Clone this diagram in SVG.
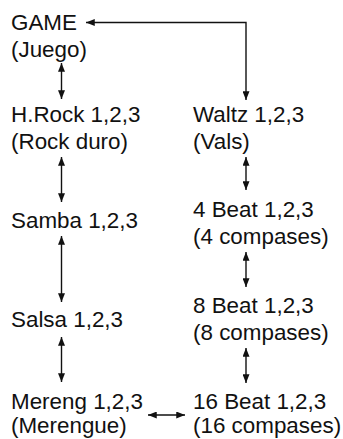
<svg xmlns="http://www.w3.org/2000/svg" width="343" height="439" viewBox="0 0 343 439">
<defs>
<style>
text{font-family:"Liberation Sans",Arial,sans-serif;font-size:22.4px;fill:#111}
.c{fill:none;stroke:#111;stroke-width:1.4}
</style>
<marker id="ah" viewBox="0 0 10 8" refX="10" refY="4" markerWidth="9" markerHeight="7" markerUnits="userSpaceOnUse" orient="auto-start-reverse">
<path d="M0,0 L10,4 L0,8 Z" fill="#111"/>
</marker>
</defs>
<rect width="343" height="439" fill="#fff"/>
<g id="game"><text x="11" y="30">GAME</text><text x="11" y="57">(Juego)</text></g>
<g id="hrock"><text x="11" y="122">H.Rock 1,2,3</text><text x="11" y="149">(Rock duro)</text></g>
<g id="samba"><text x="11" y="228">Samba 1,2,3</text></g>
<g id="salsa"><text x="11" y="327">Salsa 1,2,3</text></g>
<g id="mereng"><text x="11" y="409">Mereng 1,2,3</text><text x="11" y="433">(Merengue)</text></g>
<g id="waltz"><text x="193" y="122">Waltz 1,2,3</text><text x="193" y="149">(Vals)</text></g>
<g id="beat4"><text x="193" y="217">4 Beat 1,2,3</text><text x="193" y="244">(4 compases)</text></g>
<g id="beat8"><text x="193" y="313">8 Beat 1,2,3</text><text x="193" y="340">(8 compases)</text></g>
<g id="beat16"><text x="193" y="409">16 Beat 1,2,3</text><text x="193" y="433">(16 compases)</text></g>
<g id="connectors">
<path class="c" d="M86,22.5 H246 V100" marker-start="url(#ah)" marker-end="url(#ah)"/>
<path class="c" d="M61.5,63 V99" marker-start="url(#ah)" marker-end="url(#ah)"/>
<path class="c" d="M61.5,157 V202" marker-start="url(#ah)" marker-end="url(#ah)"/>
<path class="c" d="M61.5,236 V302" marker-start="url(#ah)" marker-end="url(#ah)"/>
<path class="c" d="M61.5,337 V382" marker-start="url(#ah)" marker-end="url(#ah)"/>
<path class="c" d="M246,157 V190" marker-start="url(#ah)" marker-end="url(#ah)"/>
<path class="c" d="M246,252 V287" marker-start="url(#ah)" marker-end="url(#ah)"/>
<path class="c" d="M246,348 V383" marker-start="url(#ah)" marker-end="url(#ah)"/>
<path class="c" d="M148,415 H185" marker-start="url(#ah)" marker-end="url(#ah)"/>
</g>
</svg>
